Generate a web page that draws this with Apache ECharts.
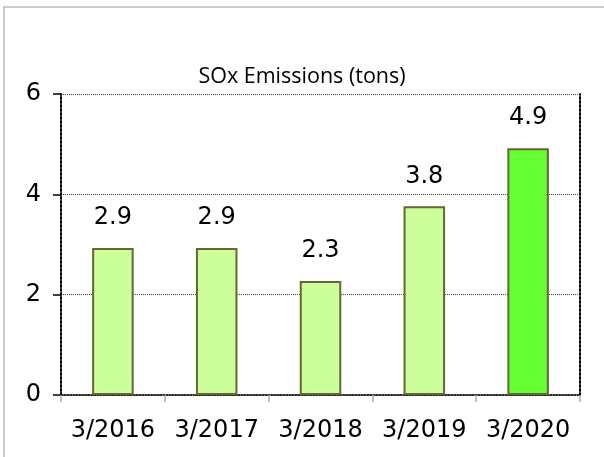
<!DOCTYPE html>
<html>
<head>
<meta charset="utf-8">
<script src="https://cdn.jsdelivr.net/npm/echarts@6/dist/echarts.min.js"></script>
<style>html,body{margin:0;padding:0;background:#fff;}#c{width:604px;height:457px;}</style>
</head>
<body>
<div id="c"></div>
<script>
var categories = ['3/2016', '3/2017', '3/2018', '3/2019', '3/2020'];
var values = [2.93, 2.93, 2.27, 3.76, 4.92];
var barColors = ['#ccff99', '#ccff99', '#ccff99', '#ccff99', '#66ff33'];
var yTicks = [0, 2, 4, 6];
var titleText = 'SOx Emissions (tons)';

var chart = echarts.init(document.getElementById('c'), null, {renderer: 'canvas'});
var data = values.map(function (v, i) {
  return {value: v, itemStyle: {color: barColors[i]}};
});
chart.setOption({
  animation: false,
  backgroundColor: '#fff',
  title: {
    text: titleText, left: 'center', top: 61,
    textStyle: {fontFamily: 'Open Sans', fontSize: 21.5, fontWeight: 'normal', color: '#000'}
  },
  graphic: [{
    type: 'rect', x: 0, y: 0, silent: true, z: -1,
    shape: {x: 4, y: 7, width: 640, height: 480},
    style: {fill: 'none', stroke: '#bbbbbb', lineWidth: 1.5}
  }],
  grid: {left: 61, top: 94, right: 24, bottom: 62},
  xAxis: [{
    type: 'category', data: categories, position: 'bottom',
    axisLine: {lineStyle: {color: '#999', type: 'dotted', width: 1.5}},
    axisTick: {show: true, length: 7, lineStyle: {color: '#aaa', width: 1.5}},
    axisLabel: {fontFamily: 'DejaVu Sans', fontSize: 24, color: '#000', margin: 24, interval: 0, hideOverlap: false}
  }, {
    type: 'category', data: categories, position: 'top',
    axisLine: {lineStyle: {color: '#000', type: 'dotted', width: 1.5}},
    axisTick: {show: false}, axisLabel: {show: false}
  }],
  yAxis: [{
    type: 'value', min: yTicks[0], max: yTicks[yTicks.length - 1], interval: 2,
    axisLine: {show: true, lineStyle: {color: '#000', type: 'dotted', width: 2}},
    axisTick: {show: true, length: 8, lineStyle: {color: '#000', width: 1.5}},
    axisLabel: {fontFamily: 'DejaVu Sans', fontSize: 24, color: '#000', margin: 20},
    splitLine: {show: true, lineStyle: {color: '#444', type: 'dotted', width: 1}}
  }, {
    type: 'value', min: 0, max: 6, interval: 2, position: 'right',
    axisLine: {show: true, lineStyle: {color: '#000', type: 'dotted', width: 2}},
    axisTick: {show: false}, axisLabel: {show: false}, splitLine: {show: false}
  }],
  series: [{
    type: 'bar', data: data, barWidth: '40%',
    itemStyle: {borderColor: '#666633', borderWidth: 2},
    label: {
      show: true, position: 'top', distance: 18,
      fontFamily: 'DejaVu Sans', fontSize: 24, color: '#000',
      formatter: function (p) { return p.value.toFixed(1); }
    }
  }]
});
</script>
</body>
</html>
